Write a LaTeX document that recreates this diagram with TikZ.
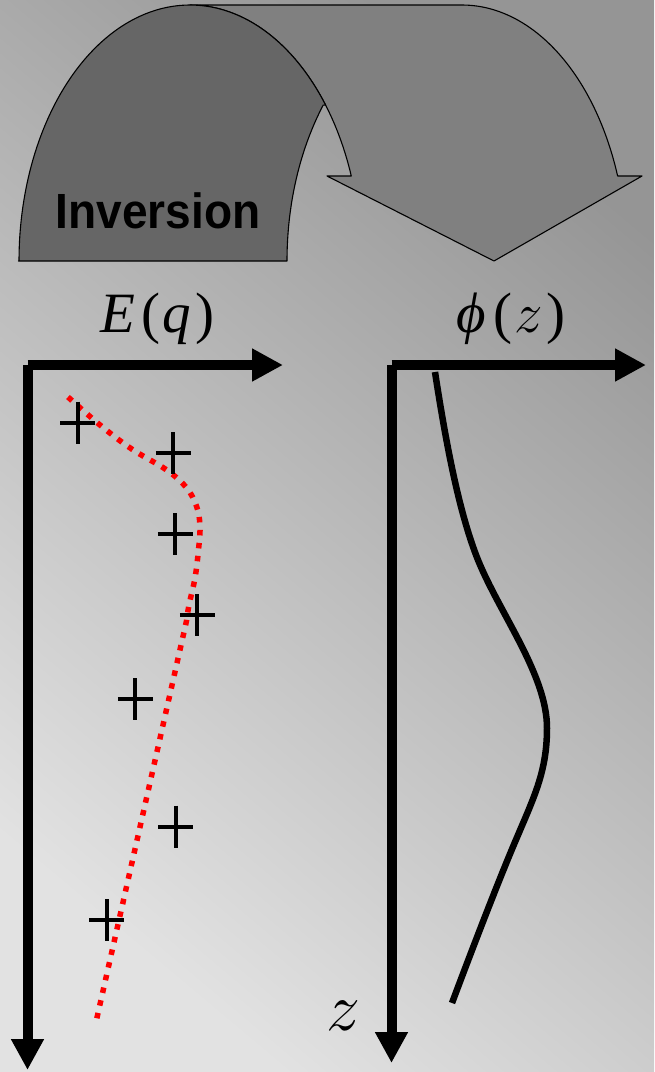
\RequirePackage{fix-cm}
\documentclass[tikz,border=0pt]{standalone}
\usepackage{fontspec}
\setmainfont{Liberation Serif}
\newfontfamily\labelsans{Liberation Sans}
\usetikzlibrary{arrows.meta}
\definecolor{bgdark}{HTML}{959595}
\definecolor{bglight}{HTML}{E2E2E2}
\definecolor{banddark}{HTML}{666666}
\definecolor{bandlight}{HTML}{808080}
\tikzset{
  band/.style={draw=black, line width=1.1pt, line join=round},
  axisline/.style={line width=10pt, line cap=butt, -{Triangle[length=31pt,width=31pt]}},
  crossline/.style={line width=4pt, line cap=butt},
  fitcurve/.style={red, line width=5.5pt, dash pattern=on 5.5pt off 7.5pt},
  potcurve/.style={black, line width=6.5pt, line cap=butt},
  mathlabel/.style={inner sep=0pt, anchor=base, font=\fontsize{57pt}{60pt}\selectfont}
}
\begin{document}
\begin{tikzpicture}[x=1pt,y=-1pt]
\useasboundingbox (0,0) rectangle (654,1072);
\shade[shading=axis, top color=bgdark, bottom color=bglight, shading angle=-40] (0,0) rectangle (654,1072);

% curved "Inversion" band: lighter part with arrowhead
\filldraw[band, fill=bandlight]
  (190,5) -- (462,5)
  -- plot[domain=90:19.4, samples=40, smooth] ({462+165*cos(\x)},{261-256*sin(\x)})
  -- (642,176) -- (494,261) -- (327,176) -- (351,176)
  -- plot[domain=19.4:90, samples=40, smooth] ({190+171*cos(\x)},{261-256*sin(\x)})
  -- cycle;
% darker front part
\filldraw[band, fill=banddark]
  (18.5,261)
  -- plot[domain=180:37.5, samples=60, smooth] ({190+171*cos(\x)},{261-256*sin(\x)})
  -- plot[domain=142.5:180, samples=30, smooth] ({462+175*cos(\x)},{261-256*sin(\x)})
  -- cycle;
\node[inner sep=0pt, anchor=base] (inv) at (158,228)
  {\scalebox{0.96}[1.03]{\fontsize{48pt}{50pt}\selectfont\labelsans\bfseries Inversion}};

% labels
\node[mathlabel] (Elab) at (157.5,332) {\textit{E}\kern6pt(\kern2pt\textit{q}\kern4pt)};
\node[mathlabel] (philab) at (511,332) {\textit{ϕ}\kern7pt(\kern2pt$z$\kern4pt)};
\node[mathlabel, font=\fontsize{68pt}{70pt}\selectfont] (zlab) at (343,1030) {$z$};

% axes
\coordinate (LO) at (27.5,365);
\coordinate (LX) at (283,365);
\coordinate (LY) at (27.5,1070);
\coordinate (RO) at (391.5,365);
\coordinate (RX) at (646,365);
\coordinate (RY) at (391.5,1063);
\draw[axisline] (LO) -- (LX);
\draw[axisline] (LO) -- (LY);
\draw[axisline] (RO) -- (RX);
\draw[axisline] (RO) -- (RY);

% fitted dotted curve
\draw[fitcurve] plot[smooth, tension=0.6] coordinates {
  (68,397) (100,425) (131.7,449) (166.7,470) (186.7,488) (196.7,506.7)
  (200,526.7) (198.3,551.7) (195,578) (189,605) (186.7,620)
} -- (96,1022);

% data crosses
\foreach \cx/\cy [count=\i] in {77.7/422.7, 173.3/453.3, 175.3/534.3, 197.3/615.3, 135.3/699, 175.7/826.7, 106.7/920}{
  \coordinate (m\i) at (\cx,\cy);
  \draw[crossline] (m\i) +(-17.5,0) -- +(17.5,0) +(0,-21) -- +(0,21);
}

% potential curve
\coordinate (p0) at (435,372);
\coordinate (p1) at (478,560);
\coordinate (p2) at (547,728);
\coordinate (p3) at (518,835);
\coordinate (p4) at (452,1003);
\draw[potcurve] (p0) .. controls (447,450) and (460,515) .. (p1)
  .. controls (500,614) and (547,675) .. (p2)
  .. controls (547,770) and (535,795) .. (p3)
  .. controls (499,879) and (470,955) .. (p4);
\end{tikzpicture}
\end{document}
